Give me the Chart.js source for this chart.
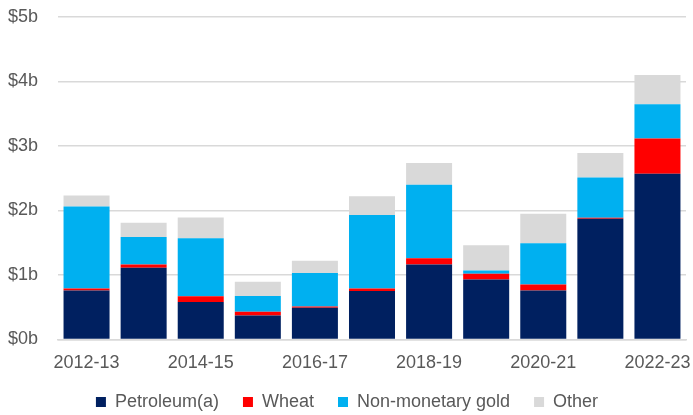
<!DOCTYPE html>
<html><head><meta charset="utf-8">
<script src="https://cdn.jsdelivr.net/npm/chart.js@4"></script>
<style>html,body{margin:0;padding:0;background:#fff}#wrap{width:693px;height:415px}</style>
</head><body><div id="wrap"><canvas id="c" width="693" height="415"></canvas></div>
<script>
const categories = ["2012-13","2013-14","2014-15","2015-16","2016-17","2017-18","2018-19","2019-20","2020-21","2021-22","2022-23"];
const petroleum = [0.76,1.11,0.58,0.37,0.49,0.75,1.16,0.93,0.76,1.87,2.57];
const wheat     = [0.03,0.05,0.09,0.06,0.02,0.04,0.10,0.09,0.09,0.015,0.545];
const gold      = [1.27,0.43,0.90,0.245,0.52,1.14,1.14,0.05,0.64,0.625,0.53];
const other     = [0.17,0.22,0.32,0.22,0.19,0.29,0.335,0.39,0.46,0.38,0.455];
const yTicks = [0,1,2,3,4,5];

const FONT = "'Liberation Sans', Arial, sans-serif";
const TXT = "#595959";
const mk = (label, data, color) => ({label, data, backgroundColor: color, borderWidth: 0, categoryPercentage: 0.806, barPercentage: 1.0});

new Chart(document.getElementById('c'), {
  type: 'bar',
  data: {
    labels: categories,
    datasets: [
      mk('Petroleum(a)', petroleum, '#002060'),
      mk('Wheat', wheat, '#FF0000'),
      mk('Non-monetary gold', gold, '#00B0F0'),
      mk('Other', other, '#D9D9D9')
    ]
  },
  options: {
    responsive: false,
    animation: false,
    layout: {padding: {left: 8, right: 7, top: 17, bottom: -6}},
    plugins: {
      tooltip: {enabled: false},
      legend: {
        position: 'bottom',
        labels: {font: {family: FONT, size: 18}, color: TXT, boxWidth: 10, boxHeight: 10, padding: 24}
      }
    },
    scales: {
      x: {
        stacked: true,
        grid: {display: false, drawTicks: false},
        border: {display: true, color: '#D9D9D9', width: 1.5},
        afterFit: (axis) => {
          axis.height = 29.6;
          axis.paddingLeft = 0; axis.paddingRight = 0;
          axis._computeLabelArea = () => null;
        },
        ticks: {
          font: {family: FONT, size: 18}, color: TXT, maxRotation: 0, autoSkip: false, padding: 13,
          callback: function(v, i) { return i % 2 === 0 ? categories[i] : ''; }
        }
      },
      y: {
        stacked: true,
        min: 0, max: 5,
        afterBuildTicks: (axis) => { axis.ticks = yTicks.map(v => ({value: v})); },
        afterFit: (axis) => { axis.width = 50; axis.paddingTop = 0; axis.paddingBottom = 0; },
        grid: {color: '#D9D9D9', lineWidth: 1.5, drawTicks: false},
        border: {display: false},
        ticks: {font: {family: FONT, size: 18}, color: TXT, padding: 6, crossAlign: 'far', callback: v => '$' + v + 'b'}
      }
    }
  }
});
</script></body></html>
